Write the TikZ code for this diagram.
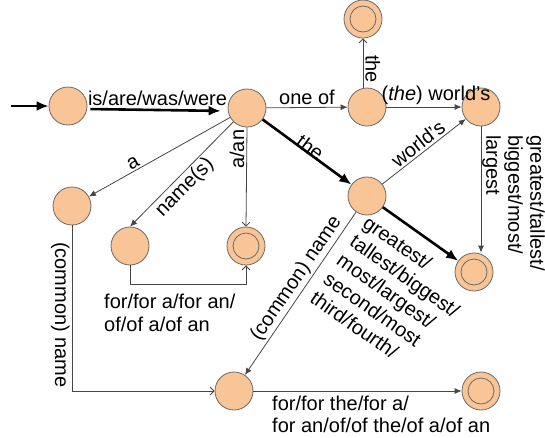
\documentclass[tikz,border=0pt]{standalone}
\usepackage{fontspec}
\setmainfont{Liberation Sans}
\usepackage{xcolor}
\usetikzlibrary{arrows.meta,positioning}
\definecolor{statefill}{RGB}{250,197,150}
\definecolor{stateline}{RGB}{105,105,105}
\definecolor{edgeline}{RGB}{70,70,70}

\begin{document}
\begin{tikzpicture}[x=1pt,y=-1pt,
    font=\fontsize{20}{23}\selectfont,
    state/.style={draw=stateline,fill=statefill,circle,minimum size=38pt,inner sep=0pt,line width=0.8pt},
    accept/.style={state,path picture={\draw[stateline,line width=0.8pt] (path picture bounding box.center) circle (13pt);}},
    edge/.style={draw=edgeline,line width=0.8pt,-{Latex[length=7pt,width=6pt]}},
    openedge/.style={draw=edgeline,line width=0.8pt,-{Straight Barb[length=4pt,width=8pt]}},
    mainedge/.style={draw=black,line width=2.6pt,-{Latex[length=12pt,width=10pt]}},
    lbl/.style={inner sep=2pt}]
    \useasboundingbox (0,0) rectangle (545,437);

    % states
    \node[state] (q0) at (68,106) {};
    \node[state] (q1) at (247,108) {};
    \node[state] (q2) at (367,107) {};
    \node[accept] (q3) at (363,19) {};
    \node[state] (q4) at (481,107) {};
    \node[state] (q5) at (367,196) {};
    \node[accept] (q6) at (474,272) {};
    \node[state] (q7) at (72,206) {};
    \node[state] (q8) at (130,246) {};
    \node[accept] (q9) at (246,246) {};
    \node[state] (q10) at (234,391) {};
    \node[accept] (q11) at (481,391) {};

    % start
    \coordinate (in) at (11,106);
    \draw[mainedge] (in) -- (q0);
    \draw[mainedge,shorten <=3pt,shorten >=7pt] ([yshift=-3pt]q0.east) -- ([yshift=-3pt]q1.west)
        node[lbl,midway,above=1pt] {is/are/was/were};

    % one of / the world's
    \draw[edge] (q1) -- (q2) node[lbl,midway,above] {one of};
    \draw[openedge] (q2.north -| q3) -- (q3)
        node[lbl,pos=0.38,rotate=-90,anchor=south] {the};
    \draw[edge] (q2) -- (q4) node[lbl,midway,above,xshift=12pt] {(\textit{the}) world's};

    % the ... superlative
    \draw[mainedge] (q1) -- (q5) node[lbl,midway,sloped,above=-5pt] {the};
    \draw[edge] (q5) -- (q4) node[lbl,midway,sloped,above] {world's};
    \draw[edge] (q4.south) -- (q4.south |- q6.north);
    \node[lbl,rotate=-90,anchor=south west,align=left,inner sep=0pt,
        font=\fontsize{20}{22}\selectfont] (w1) at (482,135)
        {greatest/tallest/\\biggest/most/\\largest};
    \draw[mainedge] (q5) -- (q6);
    \node[lbl,rotate=-35,anchor=north west,align=left,inner sep=0pt] (w2) at (370,214)
        {greatest/\\tallest/biggest/\\most/largest/\\second/most\\third/fourth/};

    % a / name(s) / a/an
    \draw[edge] (q1) -- (q7) node[lbl,pos=0.66,sloped,above] {a};
    \draw[edge] (q1) -- (q8.north) node[lbl,pos=0.55,sloped,below] {name(s)};
    \draw[openedge] (q1.south) -- (q9.north)
        node[lbl,pos=0.22,rotate=90,anchor=south] {a/an};
    \draw[openedge] (q8.south) -- ++(0,19) -| (q9.south);
    \node[lbl,anchor=north west,align=left,inner sep=0pt] (w3) at (104,294)
        {for/for a/for an/\\of/of a/of an};

    % (common) name
    \draw[openedge] (q7.south) |- (q10.west)
        node[lbl,pos=0.27,rotate=-90,anchor=north] {(common) name};
    \draw[edge] (q5) -- (q10) node[lbl,pos=0.45,sloped,above] {(common) name};

    % final
    \draw[edge] (q10) -- (q11);
    \node[lbl,anchor=north west,align=left,inner sep=0pt,
        font=\fontsize{20}{22}\selectfont] (w4) at (272,396)
        {for/for the/for a/\\for an/of/of the/of a/of an};
\end{tikzpicture}
\end{document}
